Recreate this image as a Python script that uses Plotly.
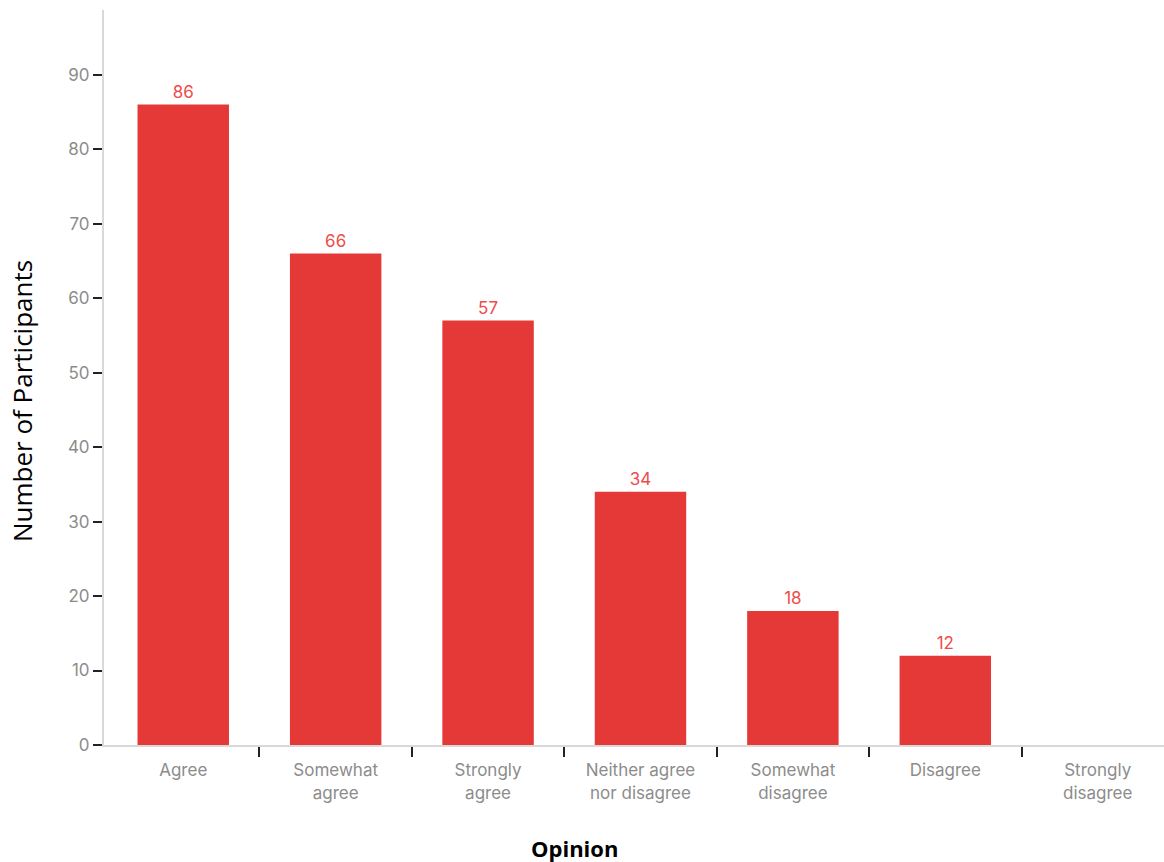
import plotly.graph_objects as go

categories = ["Agree", "Somewhat<br>agree", "Strongly<br>agree", "Neither agree<br>nor disagree",
              "Somewhat<br>disagree", "Disagree", "Strongly<br>disagree"]
participants = [86, 66, 57, 34, 18, 12, 0]
y_ticks = [0, 10, 20, 30, 40, 50, 60, 70, 80, 90]

positions = list(range(len(categories)))
boundaries = [p + 0.5 for p in positions[:-1]]
bar_text = [str(v) if v else "" for v in participants]

fig = go.Figure(go.Bar(
    x=positions, y=participants, text=bar_text, textposition="outside",
    textfont=dict(family="Inter", size=17, color="#f04b4b"),
    marker=dict(color="#e43936", line=dict(width=0)),
    cliponaxis=False, hoverinfo="skip", width=0.6,
))

fig.update_layout(
    width=1164, height=862,
    margin=dict(l=104, r=0, t=10, b=117),
    plot_bgcolor="white", paper_bgcolor="white",
    showlegend=False,
    font=dict(family="Inter", size=17, color="#8a8a8a"),
)
fig.update_xaxes(
    type="linear", range=[-0.52, 6.435],
    tickvals=positions, ticktext=categories, ticks="", ticklabelstandoff=9,
    minor=dict(tickvals=boundaries, ticks="outside", ticklen=10, tickwidth=2,
               tickcolor="#222", showgrid=False),
    showline=True, linecolor="#d9d9d9", linewidth=2,
    tickfont=dict(family="Inter", size=17, color="#8c8c8c"),
    showgrid=False, zeroline=False, fixedrange=True,
)
fig.update_yaxes(
    range=[0, 98.7], tickvals=y_ticks,
    showline=True, linecolor="#d9d9d9", linewidth=2,
    ticks="outside", ticklen=9, tickwidth=2, tickcolor="#222",
    tickfont=dict(family="Inter", size=17, color="#8c8c8c"),
    showgrid=False, zeroline=False, fixedrange=True,
)
fig.add_annotation(text="Number of Participants", xref="paper", yref="paper",
                   x=-104/1060, y=(745-401)/735, xanchor="left", yanchor="middle", textangle=-90,
                   showarrow=False, xshift=2,
                   font=dict(family="Open Sans", size=26, color="#000"))
fig.add_annotation(text="<b>Opinion</b>", xref="paper", yref="paper",
                   x=(574-104)/1060, y=-(848-745)/735, xanchor="center", yanchor="middle",
                   showarrow=False,
                   font=dict(family="Open Sans", size=22, color="#000"))

fig.write_html("out.html", config={"displayModeBar": False},
               post_script="document.body.style.margin='0';")
